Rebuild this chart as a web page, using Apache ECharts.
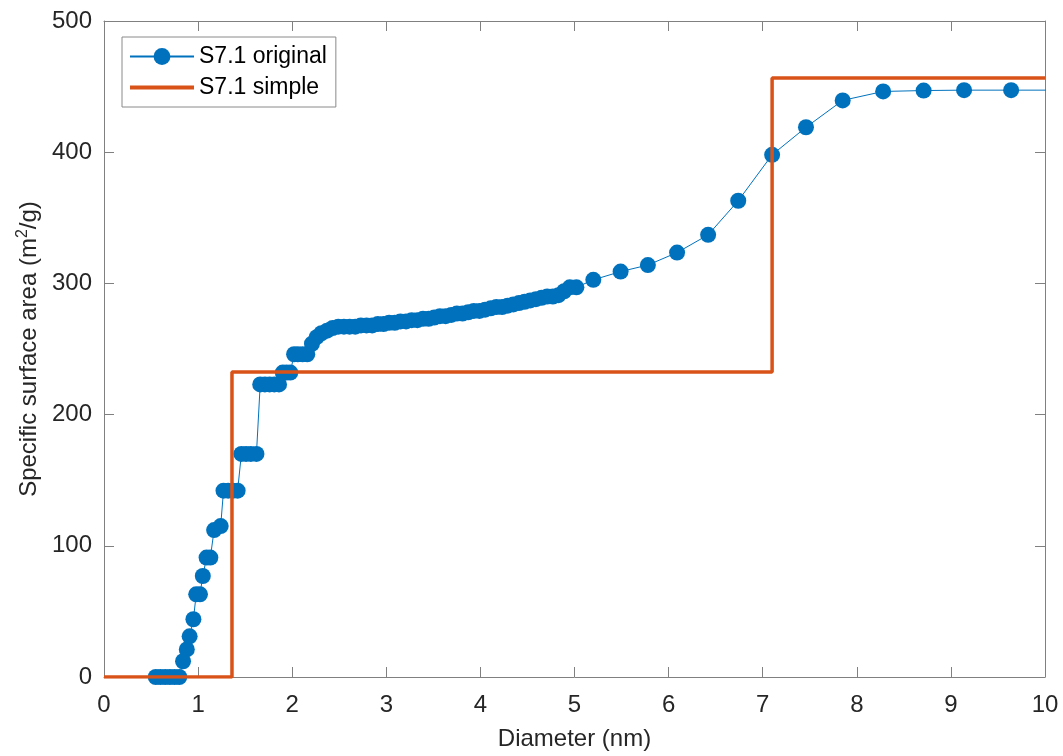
<!DOCTYPE html>
<html>
<head>
<meta charset="utf-8">
<script src="https://cdn.jsdelivr.net/npm/echarts@6/dist/echarts.min.js"></script>
<style>html,body{margin:0;padding:0;background:#fff;}#c{width:1063px;height:756px;}</style>
</head>
<body>
<div id="c"></div>
<script>
const originalX = [0.55,0.60,0.65,0.70,0.75,0.80,0.84,0.88,0.91,0.95,0.98,1.02,1.05,1.09,1.13,1.17,1.24,1.27,1.32,1.37,1.42,1.46,1.51,1.56,1.62,1.66,1.71,1.76,1.81,1.86,1.90,1.94,1.98,2.02,2.06,2.11,2.16,2.21,2.26,2.31,2.37,2.43,2.49,2.55,2.61,2.67,2.73,2.79,2.85,2.91,2.97,3.03,3.09,3.15,3.21,3.27,3.33,3.39,3.45,3.51,3.57,3.63,3.69,3.75,3.81,3.87,3.93,3.99,4.05,4.11,4.17,4.23,4.29,4.35,4.41,4.47,4.53,4.59,4.65,4.71,4.77,4.83,4.89,4.95,5.02,5.20,5.49,5.78,6.09,6.42,6.74,7.10,7.46,7.85,8.28,8.71,9.14,9.64,10.3];
const originalY = [0,0,0,0,0,0,12,21,31,44,63,63,77,91,91,112,115,142,142,142,142,170,170,170,170,223,223,223,223,223,232,232,232,246,246,246,246,254,259,262,264,266,267,267,267,267,268,268,268,269,269,270,270,271,271,272,272,273,273,274,275,275,276,277,277,278,279,279,280,281,282,282,283,284,285,286,287,288,289,290,290,291,294,297,297,302.7,309,314,323.5,337,363,398,419,439.5,446.3,447,447.3,447.3,447.3];
const simpleX = [0,1.36,1.36,7.1,7.1,10];
const simpleY = [0,0,232.5,232.5,456.5,456.5];
const xTicks = [0,1,2,3,4,5,6,7,8,9,10];
const yTicks = [0,100,200,300,400,500];

const zip = (a,b) => a.map((v,i)=>[v,b[i]]);
const font = 'Liberation Sans, Arial, Helvetica, sans-serif';
const axisColor = '#262626';
const lineColor = '#808080';
const blue = '#0072BD';
const orange = '#D95319';

const chart = echarts.init(document.getElementById('c'), null, {renderer:'canvas'});
const baseX = {
  type:'value', min:xTicks[0], max:xTicks[xTicks.length-1], interval:1,
  axisLine:{show:true, onZero:false, lineStyle:{color:lineColor, width:1}},
  axisTick:{show:true, inside:true, length:10, lineStyle:{color:lineColor}},
  splitLine:{show:false}
};
const baseY = {
  type:'value', min:yTicks[0], max:yTicks[yTicks.length-1], interval:100,
  axisLine:{show:true, onZero:false, lineStyle:{color:lineColor, width:1}},
  axisTick:{show:true, inside:true, length:10, lineStyle:{color:lineColor}},
  splitLine:{show:false}
};
chart.setOption({
  animation:false,
  backgroundColor:'#fff',
  grid:{left:104, right:18, top:21, bottom:77, containLabel:false},
  legend:{
    orient:'vertical', left:122, top:37,
    backgroundColor:'#fff', borderColor:'#8a8a8a', borderWidth:1, borderRadius:0,
    padding:[8,9,8,6], itemGap:8, itemWidth:64, itemHeight:21,
    textStyle:{fontFamily:font, fontSize:23, color:'#000'},
    data:[
      {name:'S7.1 original'},
      {name:'S7.1 simple', itemStyle:{opacity:0}, lineStyle:{width:4, color:orange}}
    ]
  },
  xAxis:[
    Object.assign({}, baseX, {
      position:'bottom',
      name:'Diameter (nm)', nameLocation:'middle', nameGap:50,
      nameTextStyle:{fontFamily:font, fontSize:24, color:axisColor},
      axisLabel:{show:true, fontFamily:font, fontSize:24, color:axisColor, margin:16}
    }),
    Object.assign({}, baseX, {position:'top', axisLabel:{show:false}})
  ],
  yAxis:[
    Object.assign({}, baseY, {
      position:'left',
      name:'Specific surface area (m{sup|2}/g)', nameLocation:'middle', nameGap:60,
      nameTextStyle:{fontFamily:font, fontSize:24, color:axisColor,
        rich:{sup:{fontFamily:font, fontSize:16, color:axisColor, verticalAlign:'top', padding:[0,0,12,0]}}},
      axisLabel:{show:true, fontFamily:font, fontSize:24, color:axisColor, margin:12}
    }),
    Object.assign({}, baseY, {position:'right', axisLabel:{show:false}})
  ],
  series:[
    {
      name:'S7.1 original', type:'line', xAxisIndex:0, yAxisIndex:0,
      data:zip(originalX, originalY),
      symbol:'circle', symbolSize:16, showAllSymbol:true, clip:true,
      itemStyle:{color:blue},
      lineStyle:{color:blue, width:1},
      z:2
    },
    {
      name:'S7.1 simple', type:'line', xAxisIndex:0, yAxisIndex:0,
      data:zip(simpleX, simpleY),
      symbol:'none', clip:true,
      itemStyle:{color:orange},
      lineStyle:{color:orange, width:3.5},
      z:3
    }
  ]
});
</script>
</body>
</html>
